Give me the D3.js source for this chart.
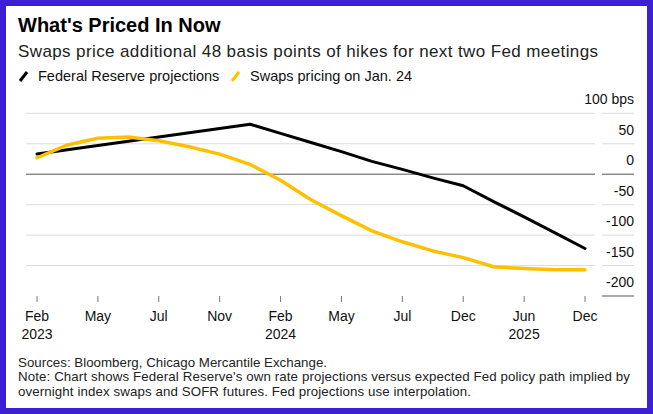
<!DOCTYPE html>
<html>
<head>
<meta charset="utf-8">
<script src="https://cdn.jsdelivr.net/npm/d3@7"></script>
<style>
  html, body { margin: 0; padding: 0; background: #3d1fd6; }
  text { font-family: "Liberation Sans", Arial, sans-serif; fill: #111; }
</style>
</head>
<body>
<script>
var width = 653, height = 414

// FOMC-ish dates along the axis, equally spaced
var dates = ["Feb 2023", "Mar 2023", "May 2023", "Jun 2023", "Jul 2023", "Sep 2023", "Nov 2023", "Dec 2023",
  "Feb 2024", "Mar 2024", "May 2024", "Jun 2024", "Jul 2024", "Sep 2024", "Dec 2024",
  "Mar 2025", "Jun 2025", "Sep 2025", "Dec 2025"]

// bps change vs current rate
var fedProjections = [33, 40, 47, 54, 61, 68, 75, 82, 67, 52, 37, 21, 8, -6, -19, -45, -70, -96, -122]
var swapsPricing = [27, 48, 59, 61, 55, 45, 33, 16, -10, -42, -68, -93, -111, -126, -137, -152, -155, -157, -157]

var yTicks = [100, 50, 0, -50, -100, -150, -200]
var xLabels = ["Feb", "May", "Jul", "Nov", "Feb", "May", "Jul", "Dec", "Jun", "Dec"]
var xYears = ["2023", "", "", "", "2024", "", "", "", "2025", ""]

var x = d3.scalePoint()
    .domain(dates)
    .range([37, 585])

var y = d3.scaleLinear()
    .domain([-200, 100])
    .range([296, 113.3])

var svg = d3.select("body").append("svg")
    .attr("width", width)
    .attr("height", height)
    .style("display", "block")

// white card inside the border
svg.append("rect")
    .attr("x", 6).attr("y", 6)
    .attr("width", width - 12).attr("height", height - 12)
    .attr("fill", "#fff")

svg.append("text") //TITLE
    .text("What's Priced In Now")
    .attr("x", 18).attr("y", 32)
    .style("font-size", "20px")
    .style("font-weight", "bold")
    .style("fill", "#000")

svg.append("text") //SUBTITLE
    .text("Swaps price additional 48 basis points of hikes for next two Fed meetings")
    .attr("x", 18).attr("y", 56.5)
    .attr("textLength", 580)
    .attr("lengthAdjust", "spacing")
    .style("font-size", "17px")
    .style("fill", "#222")

// legend
var legend = [
  {name: "Federal Reserve projections", color: "#000", x: 19},
  {name: "Swaps pricing on Jan. 24", color: "#ffc000", x: 231}
]
var lg = svg.selectAll(".legend")
    .data(legend)
  .enter().append("g")
    .attr("transform", function(d) { return "translate(" + d.x + ",0)" })

lg.append("line")
    .attr("x1", 1).attr("y1", 81)
    .attr("x2", 8).attr("y2", 72)
    .attr("stroke", function(d) { return d.color })
    .attr("stroke-width", 3)

lg.append("text")
    .text(function(d) { return d.name })
    .attr("x", 19).attr("y", 81)
    .style("font-size", "14.5px")

// gridlines: plot part and the short piece under the labels
var grid = svg.selectAll(".grid")
    .data(yTicks)
  .enter().append("g")

grid.filter(function(d) { return d !== -200 }).append("line")
    .attr("x1", 26).attr("x2", 595)
    .attr("y1", function(d) { return y(d) }).attr("y2", function(d) { return y(d) })
    .attr("stroke", function(d) { return d === 0 ? "#555" : "#dcdcdc" })
    .attr("stroke-width", 1)

grid.append("line")
    .attr("x1", 602).attr("x2", 634)
    .attr("y1", function(d) { return y(d) }).attr("y2", function(d) { return y(d) })
    .attr("stroke", function(d) { return (d === 0 || d === -200) ? "#555" : "#dcdcdc" })
    .attr("stroke-width", 1)

grid.append("text")
    .text(function(d) { return d === 100 ? "100 bps" : d })
    .attr("x", 634)
    .attr("y", function(d) { return y(d) - 9 })
    .attr("text-anchor", "end")
    .style("font-size", "14px")

// x axis ticks every other date
var tickDates = dates.filter(function(d, i) { return i % 2 === 0 })

var xt = svg.selectAll(".xtick")
    .data(tickDates)
  .enter().append("g")
    .attr("transform", function(d) { return "translate(" + x(d) + ",0)" })

xt.append("line")
    .attr("y1", 296).attr("y2", 302)
    .attr("stroke", "#777")

xt.append("text")
    .text(function(d, i) { return xLabels[i] })
    .attr("y", 321)
    .attr("text-anchor", "middle")
    .style("font-size", "14px")

xt.append("text")
    .text(function(d, i) { return xYears[i] })
    .attr("y", 338.5)
    .attr("text-anchor", "middle")
    .style("font-size", "14px")

// lines
var line = d3.line()
    .x(function(d, i) { return x(dates[i]) })
    .y(function(d) { return y(d) })

svg.append("path")
    .datum(fedProjections)
    .attr("d", line)
    .attr("fill", "none")
    .attr("stroke", "#000")
    .attr("stroke-width", 3)
    .attr("stroke-linejoin", "round")
    .attr("stroke-linecap", "round")

svg.append("path")
    .datum(swapsPricing)
    .attr("d", line)
    .attr("fill", "none")
    .attr("stroke", "#ffc000")
    .attr("stroke-width", 3.5)
    .attr("stroke-linejoin", "round")
    .attr("stroke-linecap", "round")

// footnotes
var notes = ["Sources: Bloomberg, Chicago Mercantile Exchange.",
  "Note: Chart shows Federal Reserve's own rate projections versus expected Fed policy path implied by",
  "overnight index swaps and SOFR futures. Fed projections use interpolation."]
var noteWidths = [309, 612, 453]

svg.selectAll(".note")
    .data(notes)
  .enter().append("text")
    .text(function(d) { return d })
    .attr("x", 18)
    .attr("y", function(d, i) { return 366.5 + i * 14.5 })
    .attr("textLength", function(d, i) { return noteWidths[i] })
    .attr("lengthAdjust", "spacing")
    .style("font-size", "13.3px")
    .style("fill", "#222")
</script>
</body>
</html>
